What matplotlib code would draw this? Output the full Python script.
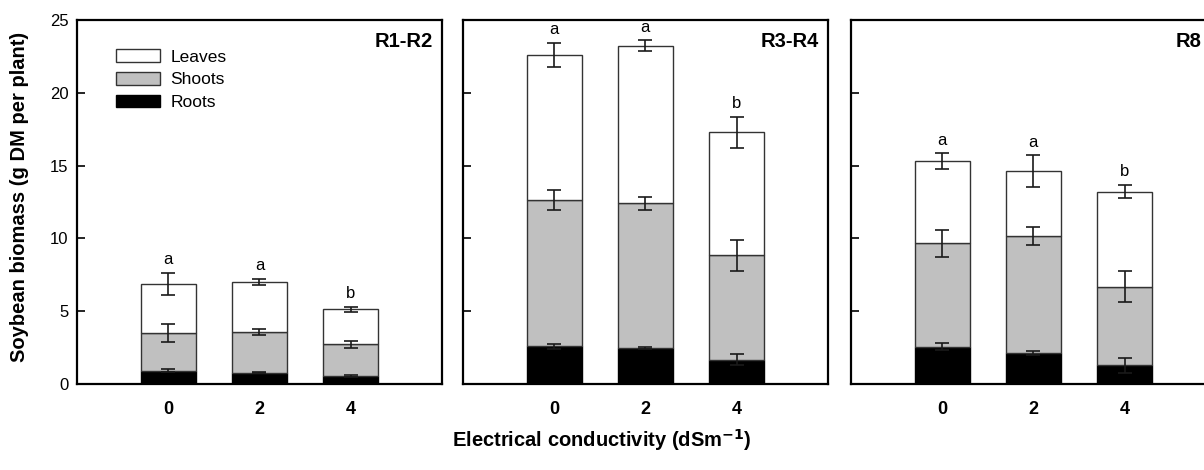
import numpy as np
import matplotlib.pyplot as plt

plt.rcParams['font.family'] = ['Liberation Sans', 'DejaVu Sans']

ec_levels = [0, 2, 4]
stages = ["R1-R2", "R3-R4", "R8"]

# cumulative tops (roots, roots+shoots, total)
roots = [[0.9, 0.78, 0.55], [2.58, 2.47, 1.67], [2.56, 2.12, 1.28]]
roots_err = [[0.1, 0.05, 0.05], [0.15, 0.08, 0.4], [0.23, 0.14, 0.5]]
shoots_top = [[3.48, 3.56, 2.72], [12.62, 12.42, 8.84], [9.66, 10.16, 6.69]]
shoots_err = [[0.63, 0.2, 0.23], [0.68, 0.44, 1.06], [0.95, 0.63, 1.07]]
total = [[6.87, 7.02, 5.12], [22.6, 23.24, 17.28], [15.29, 14.6, 13.2]]
total_err = [[0.77, 0.22, 0.2], [0.8, 0.36, 1.08], [0.55, 1.1, 0.45]]
letters = [["a", "a", "b"], ["a", "a", "b"], ["a", "a", "b"]]

fig = plt.figure(figsize=(12.04, 4.70), dpi=100)
lefts = [0.064, 0.3845, 0.7068]

for i in range(3):
    ax = fig.add_axes([lefts[i], 0.183, 0.303, 0.7745])
    x = np.array(ec_levels)
    r = np.array(roots[i])
    s = np.array(shoots_top[i]) - r
    l = np.array(total[i]) - np.array(shoots_top[i])
    w = 1.2
    ax.bar(x, r, w, color='black', edgecolor='black', linewidth=1, label='Roots', zorder=2)
    ax.bar(x, s, w, bottom=r, color='#c0c0c0', edgecolor='#333333', linewidth=1, label='Shoots', zorder=2)
    ax.bar(x, l, w, bottom=shoots_top[i], color='white', edgecolor='#333333', linewidth=1, label='Leaves', zorder=2)
    for y, e in [(roots[i], roots_err[i]), (shoots_top[i], shoots_err[i]), (total[i], total_err[i])]:
        ax.errorbar(x, y, yerr=e, fmt='none', ecolor='#1a1a1a', capsize=5, elinewidth=1.2, capthick=1.2, zorder=3)
    for j in range(3):
        ax.text(x[j], total[i][j] + total_err[i][j] + 0.4, letters[i][j], ha='center', va='bottom', fontsize=12)

    ax.set_xlim(-2, 6)
    ax.set_ylim(0, 25)
    ax.set_xticks(x)
    ax.set_xticklabels([str(v) for v in ec_levels], fontweight='bold', fontsize=13)
    ax.tick_params(axis='x', length=0, pad=12)
    ax.set_yticks([0, 5, 10, 15, 20, 25])
    ax.tick_params(axis='y', direction='in', length=6, width=1.2, labelsize=12, pad=6)
    if i > 0:
        ax.set_yticklabels([])
    for sp in ax.spines.values():
        sp.set_linewidth(1.6)
    if i < 2:
        ax.text(0.975, 0.94, stages[i], transform=ax.transAxes, ha='right', va='center', fontsize=14.5, fontweight='bold')
    else:
        # third panel runs past the right edge of the image
        fig.text(0.998, 0.183 + 0.94 * 0.7745, stages[i], ha='right', va='center', fontsize=14.5, fontweight='bold')

    if i == 0:
        h, lab = ax.get_legend_handles_labels()
        ax.legend(h[::-1], lab[::-1], loc='upper left', bbox_to_anchor=(0.108, 0.92), frameon=False,
                  fontsize=12.5, handlelength=2.5, handleheight=0.75, labelspacing=0.42, handletextpad=0.6,
                  borderaxespad=0, borderpad=0)

fig.text(0.0166, 0.58, 'Soybean biomass (g DM per plant)', rotation=90, ha='center', va='center',
         fontsize=14.5, fontweight='bold')
fig.text(0.5, 0.064, 'Electrical conductivity (dSm$^{\\mathbf{-1}}$)', ha='center', va='center',
         fontsize=14.5, fontweight='bold')

fig.savefig('out.png', dpi=100)
